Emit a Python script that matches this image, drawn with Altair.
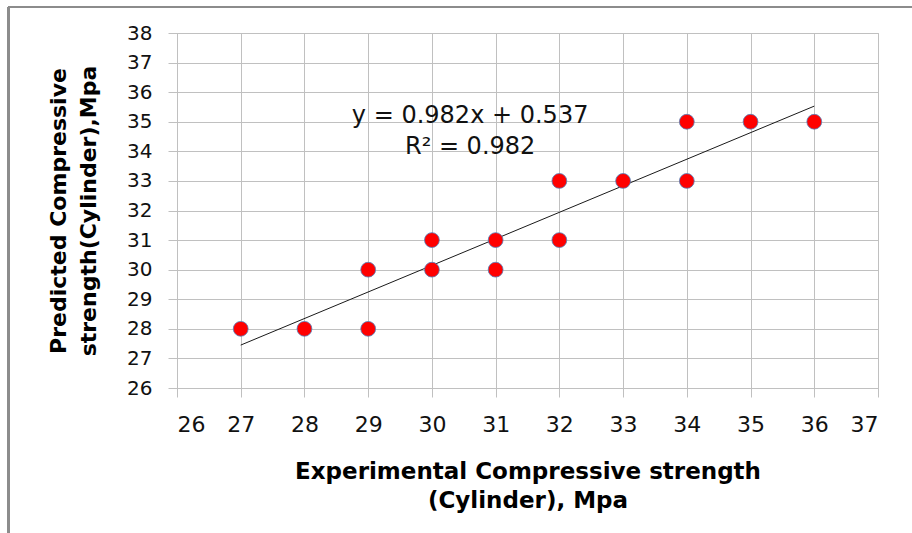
import altair as alt
import pandas as pd

# Experimental vs predicted cylinder compressive strength (MPa)
experimental = [27, 28, 29, 29, 30, 30, 31, 31, 32, 32, 33, 34, 34, 35, 36]
predicted = [28, 28, 28, 30, 30, 31, 31, 30, 31, 33, 33, 33, 35, 35, 35]

y_ticks = list(range(26, 39))
x_ticks = list(range(26, 38))

# Trendline label placed in data units
label_lines = ["y = 0.982x + 0.537", "R² = 0.982"]
label_x = [30.6, 30.6]
label_y = [34.96, 33.91]

points = pd.DataFrame({"exp": experimental, "pred": predicted})
labels = pd.DataFrame({"text": label_lines, "x": label_x, "y": label_y})

FONT = "DejaVu Sans"
GRID = "#c0c0c0"

x_scale = alt.Scale(domain=[26, 37], nice=False, zero=False)
y_scale = alt.Scale(domain=[26, 38], nice=False, zero=False)

x_axis = alt.Axis(
    values=x_ticks, format="d", labelOverlap=False, tickCount=12,
    title=["Experimental Compressive strength", "(Cylinder), Mpa"],
    titleFont=FONT, titleFontSize=23, titleFontWeight="bold", titleColor="#000",
    titleLineHeight=29, titleBaseline="alphabetic", titleY=90,
    labelFont=FONT, labelFontSize=22, labelColor="#111", labelPadding=17,
    tickSize=9, tickColor=GRID, domainColor=GRID, gridColor=GRID,
)
y_axis = alt.Axis(
    values=y_ticks, format="d", labelOverlap=False, tickCount=13,
    title=["Predicted  Compressive", "strength(Cylinder),Mpa"],
    titleFont=FONT, titleFontSize=22, titleFontWeight="bold", titleColor="#000",
    titleLineHeight=30, titleBaseline="middle", titleX=-119, titleY=177.5,
    labelFont=FONT, labelFontSize=20, labelColor="#111", labelPadding=16,
    tickSize=9, tickColor=GRID, domainColor=GRID, gridColor=GRID,
)

X = alt.X("exp:Q", scale=x_scale, axis=x_axis)
Y = alt.Y("pred:Q", scale=y_scale, axis=y_axis)

base = alt.Chart(points)

dots = base.mark_point(
    shape="circle", filled=True, size=220, fill="#ff0000", stroke="#4f81bd",
    strokeWidth=0.8, opacity=1,
).encode(x=X, y=Y)

trend = base.transform_regression(
    "exp", "pred", extent=[27, 36]
).mark_line(color="#1a1a1a", strokeWidth=1).encode(x=X, y=Y)

eq = alt.Chart(labels).mark_text(
    font=FONT, fontSize=24, color="#111", align="center", baseline="alphabetic",
).encode(
    x=alt.X("x:Q", scale=x_scale, axis=x_axis),
    y=alt.Y("y:Q", scale=y_scale, axis=y_axis),
    text="text:N",
)

# Outer frame lines (left and top edges of the figure box)
frame_left = alt.Chart(points).mark_rule(color="#8c8c8c", strokeWidth=2).encode(
    x=alt.value(-168.5), y=alt.value(-26), y2=alt.value(500),
)
frame_top = alt.Chart(points).mark_rule(color="#8c8c8c", strokeWidth=2).encode(
    x=alt.value(-169), x2=alt.value(735), y=alt.value(-26),
)

chart = alt.layer(trend, dots, eq, frame_left, frame_top).properties(
    width=701, height=355,
    padding={"left": 177, "top": 33, "right": 34, "bottom": 145},
    autosize=alt.AutoSizeParams(type="none"),
    background="white",
).configure_view(stroke=GRID, strokeWidth=1)

chart.save("out.html", embed_options={"renderer": "svg", "actions": False})
